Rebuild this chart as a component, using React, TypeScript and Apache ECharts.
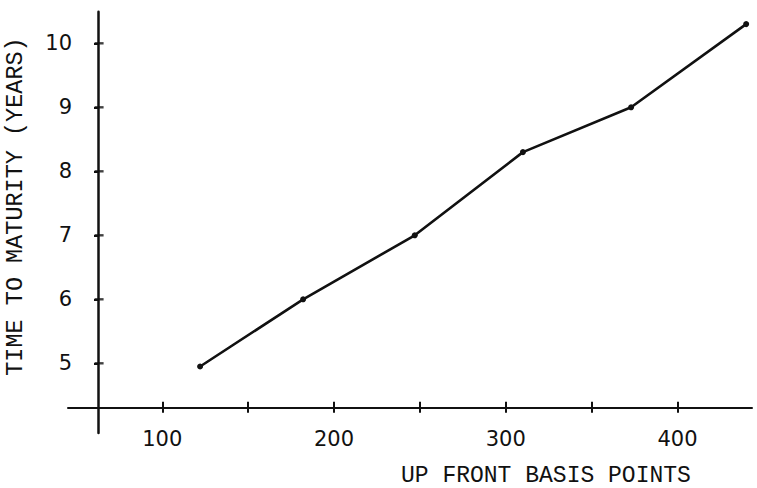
import React, { useEffect, useRef } from "react";
import * as echarts from "echarts";

const basisPoints = [122, 182, 247, 310, 373, 440];
const yearsToMaturity = [4.95, 6.0, 7.0, 8.3, 9.0, 10.3];
const xTickValues = [100, 150, 200, 250, 300, 350, 400];
const xLabelValues = [100, 200, 300, 400];
const yTickValues = [5, 6, 7, 8, 9, 10];
const yAxisCrossX = 62.6;
const xTitle = "UP FRONT BASIS POINTS";
const yTitle = "TIME TO MATURITY (YEARS)";

const INK = "#111";
const LABEL_FONT = "'DejaVu Sans', sans-serif";
const TITLE_FONT = "'Liberation Mono', 'DejaVu Sans Mono', monospace";

export default function App() {
  const ref = useRef<HTMLDivElement>(null);
  useEffect(() => {
    if (!ref.current) return;
    const chart = echarts.init(ref.current, undefined, { renderer: "svg" });
    const xBase = {
      type: "value",
      position: "bottom",
      min: 45.08,
      max: 443.4,
      offset: -25.2,
      splitLine: { show: false },
    };
    chart.setOption({
      animation: false,
      backgroundColor: "#fff",
      grid: { left: 68, right: 5, top: 11.7, bottom: 55, containLabel: false },
      xAxis: [
        {
          ...xBase,
          axisLine: { show: true, onZero: false, lineStyle: { color: INK, width: 2 } },
          axisTick: {
            show: true,
            inside: false,
            length: 5,
            customValues: xTickValues,
            lineStyle: { color: INK, width: 2 },
          },
          axisLabel: {
            show: true,
            customValues: xLabelValues,
            margin: 21,
            color: INK,
            fontSize: 21,
            fontFamily: LABEL_FONT,
          },
        },
        {
          ...xBase,
          axisLine: { show: false, onZero: false },
          axisTick: {
            show: true,
            inside: true,
            length: 6,
            customValues: xTickValues,
            lineStyle: { color: INK, width: 2 },
          },
          axisLabel: { show: false },
        },
      ],
      yAxis: [
        {
          type: "value",
          position: "left",
          min: 3.911,
          max: 10.494,
          offset: -30,
          splitLine: { show: false },
          axisLine: { show: true, onZero: false, lineStyle: { color: INK, width: 2.5 } },
          axisTick: {
            show: true,
            inside: false,
            length: 4,
            customValues: yTickValues,
            lineStyle: { color: INK, width: 2 },
          },
          axisLabel: {
            show: true,
            customValues: yTickValues,
            margin: 26,
            color: INK,
            fontSize: 21,
            fontFamily: LABEL_FONT,
          },
        },
      ],
      graphic: [
        {
          type: "text",
          x: 401,
          y: 476,
          style: {
            text: xTitle,
            fill: INK,
            font: `23px ${TITLE_FONT}`,
            lineHeight: 18,
            verticalAlign: "middle",
          },
        },
        {
          type: "text",
          x: 15,
          y: 206.5,
          rotation: Math.PI / 2,
          style: {
            text: yTitle,
            fill: INK,
            font: `23.5px ${TITLE_FONT}`,
            lineHeight: 20,
            align: "center",
            verticalAlign: "middle",
          },
        },
      ],
      series: [
        {
          type: "scatter",
          name: "y ticks",
          xAxisIndex: 0,
          yAxisIndex: 0,
          data: yTickValues.map((v) => [yAxisCrossX, v]),
          symbol: "rect",
          symbolSize: [9, 2.4],
          symbolOffset: [1, 0],
          itemStyle: { color: INK },
          silent: true,
          clip: false,
          z: 5,
        },
        {
          type: "line",
          xAxisIndex: 0,
          yAxisIndex: 0,
          data: basisPoints.map((x, i) => [x, yearsToMaturity[i]]),
          symbol: "circle",
          symbolSize: 6,
          itemStyle: { color: INK },
          lineStyle: { color: INK, width: 2.6 },
          z: 3,
        },
      ],
    });
    return () => chart.dispose();
  }, []);
  return (
    <div
      ref={ref}
      style={{ position: "fixed", left: 0, top: 0, width: 757, height: 488 }}
    />
  );
}
